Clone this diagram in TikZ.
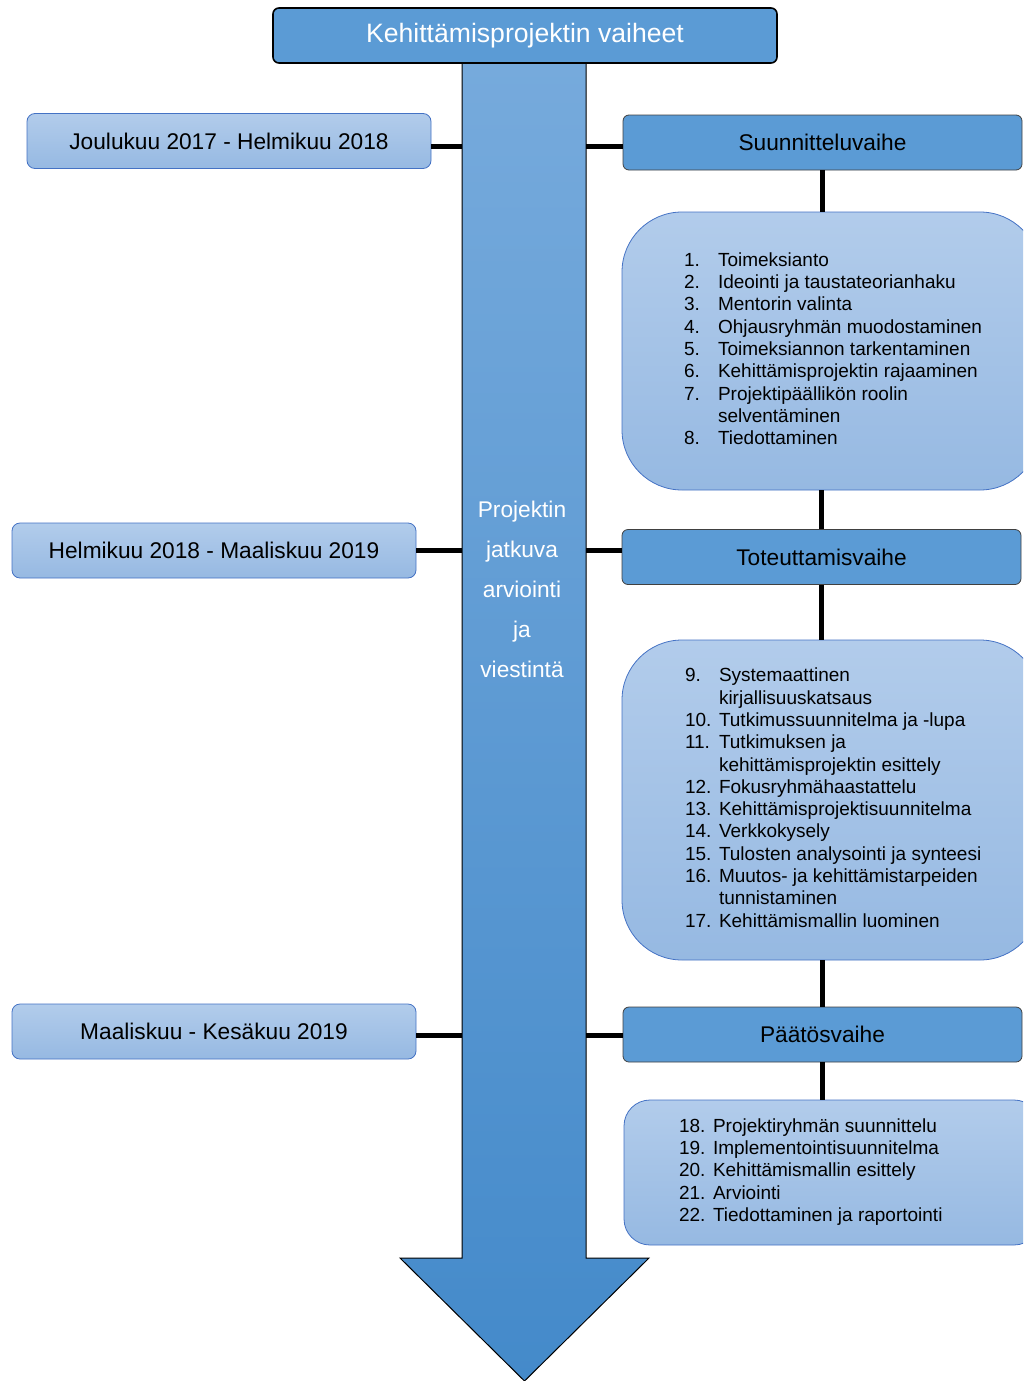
\documentclass[tikz,border=0pt]{standalone}
\usepackage{fontspec}
\setmainfont{Liberation Sans}
\definecolor{phaseblue}{RGB}{91,155,213}
\definecolor{paletop}{RGB}{178,204,235}
\definecolor{palebot}{RGB}{150,185,226}
\definecolor{edgeblue}{RGB}{68,114,196}
\definecolor{arrowtop}{RGB}{118,170,220}
\definecolor{arrowbot}{RGB}{68,138,202}
\newcommand{\phaselist}[2]% width, rows
{\makebox[#1][l]{\begin{tabular}{@{}p{17pt}@{}l@{}}#2\end{tabular}}%
}

\begin{document}
\begin{tikzpicture}[x=0.5pt,y=-0.5pt,
	bigtext/.style={font=\fontsize{11.35pt}{13.6pt}\selectfont},
	phase/.style={draw=black!75, fill=phaseblue, rounded corners=3pt, minimum width=199.5pt, minimum height=27.5pt, inner sep=0pt, bigtext},
	datebox/.style={draw=edgeblue, top color=paletop, bottom color=palebot, rounded corners=4pt, minimum width=202pt, minimum height=27.5pt, inner sep=0pt, bigtext},
	listbox/.style={draw=edgeblue, top color=paletop, bottom color=palebot, rounded corners=30pt, minimum width=209pt, inner sep=0pt, font=\fontsize{9.5pt}{11.15pt}\selectfont},
	conn/.style={line width=2.5pt}]
		\useasboundingbox (0,0) rectangle (1023,1381);
		\clip (0,0) rectangle (1023,1381);
		
		%nuoli keskella
		\draw[top color=arrowtop, bottom color=arrowbot, line width=0.5pt] (462,63) -- (586,63) -- (586,1258) -- (649,1258) -- (524.5,1381) -- (400,1258) -- (462,1258) -- cycle;
		\node[text=white, align=center, font=\fontsize{11.35pt}{20pt}\selectfont] (flow) at (522,589) {Projektin\\jatkuva\\arviointi\\ja\\viestintä};
		\node[draw=black, fill=phaseblue, rounded corners=3pt, line width=0.8pt, minimum width=252pt, minimum height=27.5pt, text=white, font=\fontsize{13.3pt}{15pt}\selectfont] (title) at (525,35.5) {Kehittämisprojektin vaiheet};
		
		\coordinate (sl1) at (462,146);
		\coordinate (sl2) at (462,550);
		\coordinate (sl3) at (462,1035);
		\coordinate (sr1) at (586,146);
		\coordinate (sr2) at (586,550);
		\coordinate (sr3) at (586,1035);
		
		%aikataulu
		\node[datebox] (date1) at (229,141) {Joulukuu 2017 - Helmikuu 2018};
		\node[datebox] (date2) at (214,550.5) {Helmikuu 2018 - Maaliskuu 2019};
		\node[datebox] (date3) at (214,1031.5) {Maaliskuu - Kesäkuu 2019};
		
		%vaiheet
		\node[phase] (phase1) at (822.5,142.5) {Suunnitteluvaihe};
		\node[phase] (phase2) at (821.5,557) {Toteuttamisvaihe};
		\node[phase] (phase3) at (822.5,1034.5) {Päätösvaihe};
		
		\node[listbox, minimum height=139pt] (list1) at (831,351) {\phaselist{147pt}{%
			1. & Toimeksianto\\
			2. & Ideointi ja taustateorianhaku\\
			3. & Mentorin valinta\\
			4. & Ohjausryhmän muodostaminen\\
			5. & Toimeksiannon tarkentaminen\\
			6. & Kehittämisprojektin rajaaminen\\
			7. & Projektipäällikön roolin\\
			   & selventäminen\\
			8. & Tiedottaminen}};
		\node[listbox, minimum height=160pt] (list2) at (831,800) {\phaselist{146pt}{%
			9. & Systemaattinen\\
			   & kirjallisuuskatsaus\\
			10. & Tutkimussuunnitelma ja -lupa\\
			11. & Tutkimuksen ja\\
			    & kehittämisprojektin esittely\\
			12. & Fokusryhmähaastattelu\\
			13. & Kehittämisprojektisuunnitelma\\
			14. & Verkkokysely\\
			15. & Tulosten analysointi ja synteesi\\
			16. & Muutos- ja kehittämistarpeiden\\
			    & tunnistaminen\\
			17. & Kehittämismallin luominen}};
		\node[listbox, rounded corners=13pt, minimum width=208pt, minimum height=72.5pt] (list3) at (832,1172.5) {\phaselist{153pt}{%
			18. & Projektiryhmän suunnittelu\\
			19. & Implementointisuunnitelma\\
			20. & Kehittämismallin esittely\\
			21. & Arviointi\\
			22. & Tiedottaminen ja raportointi}};
		
		%yhdysviivat
		\draw[conn] (sl1) -- (sl1 -| date1.east);
		\draw[conn] (sl2) -- (sl2 -| date2.east);
		\draw[conn] (sl3) -- (sl3 -| date3.east);
		\draw[conn] (sr1) -- (sr1 -| phase1.west);
		\draw[conn] (sr2) -- (sr2 -| phase2.west);
		\draw[conn] (sr3) -- (sr3 -| phase3.west);
		\draw[conn] (phase1.south) -- (phase1.south |- list1.north);
		\draw[conn] (phase2.north |- list1.south) -- (phase2.north);
		\draw[conn] (phase2.south) -- (phase2.south |- list2.north);
		\draw[conn] (phase3.north |- list2.south) -- (phase3.north);
		\draw[conn] (phase3.south) -- (phase3.south |- list3.north);
	\end{tikzpicture}
\end{document}
